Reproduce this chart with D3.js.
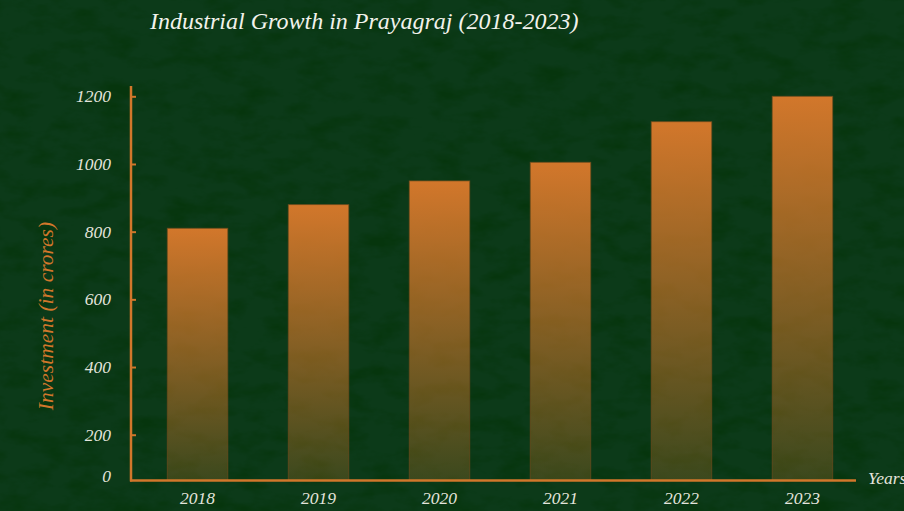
<!DOCTYPE html>
<html>
<head>
<meta charset="utf-8">
<script src="https://cdn.jsdelivr.net/npm/d3@7"></script>
<style>
  html, body { margin: 0; padding: 0; background: #0b3818; }
  svg { display: block; }
  text { font-family: 'Liberation Serif', 'DejaVu Serif', serif; font-style: italic; }
</style>
</head>
<body>
<div id="chart"></div>
<script>
const years = ['2018', '2019', '2020', '2021', '2022', '2023'];
const investment = [810, 880, 950, 1005, 1125, 1200];
const yTicks = [0, 200, 400, 600, 800, 1000, 1200];

const W = 904;
const H = 511;
const orange = '#d2772b';
const labelColor = '#e4e4dc';

const svg = d3
  .select('#chart')
  .append('svg')
  .attr('width', W)
  .attr('height', H);

const defs = svg.append('defs');

// chalkboard-ish texture, fine dark speckles
const tex = defs
  .append('filter')
  .attr('id', 'tex')
  .attr('x', 0)
  .attr('y', 0)
  .attr('width', '100%')
  .attr('height', '100%');
tex
  .append('feTurbulence')
  .attr('type', 'fractalNoise')
  .attr('baseFrequency', '0.03 0.06')
  .attr('numOctaves', 4)
  .attr('seed', 3);
tex
  .append('feColorMatrix')
  .attr('type', 'matrix')
  .attr('values', '0 0 0 0 0  0 0 0 0 0.03  0 0 0 0 0  0 0 0 -2.6 1.45');

const grad = defs
  .append('linearGradient')
  .attr('id', 'barGrad')
  .attr('x1', 0)
  .attr('y1', 0)
  .attr('x2', 0)
  .attr('y2', 1);
grad.append('stop').attr('offset', '0%').attr('stop-color', orange).attr('stop-opacity', 1);
grad.append('stop').attr('offset', '100%').attr('stop-color', orange).attr('stop-opacity', 0.24);

svg.append('rect').attr('width', W).attr('height', H).attr('fill', '#0c3a19');
svg
  .append('rect')
  .attr('width', W)
  .attr('height', H)
  .attr('filter', 'url(#tex)')
  .attr('opacity', 0.45);

const baseY = 480.5;
const axisX = 131;

const x = d3
  .scaleBand()
  .domain(years)
  .range([axisX, 869])
  .paddingInner(0.5)
  .paddingOuter(0.3);

const y = d3
  .scaleLinear()
  .domain([0, 1200])
  .range([502.4, 96.3]);

// bars
svg
  .append('g')
  .selectAll('rect')
  .data(years)
  .join('rect')
  .attr('x', d => x(d))
  .attr('width', x.bandwidth())
  .attr('y', (d, i) => y(investment[i]))
  .attr('height', (d, i) => baseY - y(investment[i]))
  .attr('fill', 'url(#barGrad)')
  .attr('stroke', '#6e4a1c')
  .attr('stroke-opacity', 0.7)
  .attr('stroke-width', 1);

// y axis
const yAxis = svg
  .append('g')
  .attr('transform', `translate(${axisX},0)`)
  .call(
    d3
      .axisLeft(y)
      .tickValues(yTicks.filter(t => t > 0))
      .tickFormat(d3.format('d'))
      .tickSize(-5)
      .tickPadding(20)
  );
yAxis.select('.domain').remove();
yAxis.selectAll('.tick line').attr('stroke', orange).attr('stroke-width', 2);
yAxis
  .selectAll('.tick text')
  .attr('fill', labelColor)
  .attr('font-size', 17.5)
  .attr('font-family', "'Liberation Serif', serif")
  .attr('font-style', 'italic');

// zero label sits on the baseline
svg
  .append('text')
  .attr('x', axisX - 20)
  .attr('y', baseY - 4)
  .attr('dy', '0.32em')
  .attr('text-anchor', 'end')
  .attr('fill', labelColor)
  .attr('font-size', 17.5)
  .text(yTicks[0]);

svg
  .append('line')
  .attr('x1', axisX)
  .attr('x2', axisX)
  .attr('y1', 86)
  .attr('y2', baseY + 1)
  .attr('stroke', orange)
  .attr('stroke-width', 2.5);

// x axis
const xAxis = svg
  .append('g')
  .attr('transform', `translate(0,${baseY})`)
  .call(d3.axisBottom(x).tickSize(0).tickPadding(11));
xAxis.select('.domain').remove();
xAxis
  .selectAll('.tick text')
  .attr('fill', labelColor)
  .attr('font-size', 17.5)
  .attr('font-family', "'Liberation Serif', serif")
  .attr('font-style', 'italic');

svg
  .append('line')
  .attr('x1', axisX - 1)
  .attr('x2', 856)
  .attr('y1', baseY)
  .attr('y2', baseY)
  .attr('stroke', orange)
  .attr('stroke-width', 2.5);

svg
  .append('text')
  .attr('x', 868)
  .attr('y', 478)
  .attr('dy', '0.32em')
  .attr('fill', labelColor)
  .attr('font-size', 17.5)
  .text('Years');

// y label
svg
  .append('text')
  .attr('transform', 'translate(53,316) rotate(-90)')
  .attr('text-anchor', 'middle')
  .attr('fill', orange)
  .attr('font-size', 21.5)
  .text('Investment (in crores)');

// title
svg
  .append('text')
  .attr('x', 150)
  .attr('y', 29)
  .attr('fill', '#f2f2ec')
  .attr('font-size', 24)
  .text('Industrial Growth in Prayagraj (2018-2023)');
</script>
</body>
</html>
